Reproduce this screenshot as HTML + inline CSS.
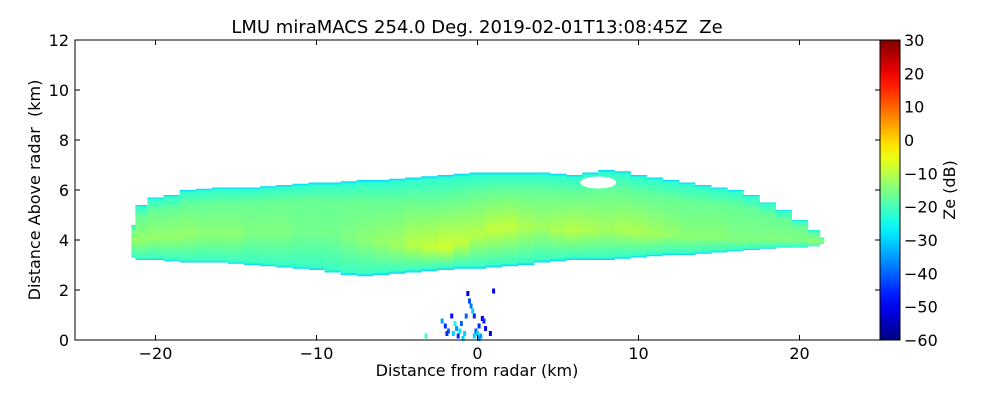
<!DOCTYPE html>
<html><head><meta charset="utf-8"><style>
body{margin:0;background:#fff;}
svg{display:block;font-family:"DejaVu Sans","Liberation Sans",sans-serif;}
</style></head><body>
<svg id="chart" width="1000" height="400" viewBox="0 0 1000 400">
<defs id="defs"></defs>
<text x="477" y="33" font-size="18" text-anchor="middle" style="white-space:pre" xml:space="preserve">LMU miraMACS 254.0 Deg. 2019-02-01T13:08:45Z  Ze</text>
<g id="echo"></g>
<g id="clutter"></g>
<rect x="75" y="40" width="805" height="300" fill="none" stroke="#000" stroke-width="1"/>
<g id="xticks"></g>
<g id="yticks"></g>
<text x="477" y="376" font-size="16" text-anchor="middle">Distance from radar (km)</text>
<text transform="translate(40,190) rotate(-90)" font-size="16" text-anchor="middle" style="white-space:pre" xml:space="preserve">Distance Above radar  (km)</text>
<rect id="cbar" x="880" y="40" width="20" height="300" stroke="#000" stroke-width="1"/>
<g id="cticks"></g>
<text transform="translate(955,190) rotate(-90)" font-size="16" text-anchor="middle">Ze (dB)</text>
</svg>
<script>
const xTicks=[-20,-10,0,10,20];
const yTicks=[0,2,4,6,8,10,12];
const cTicks=[30,20,10,0,-10,-20,-30,-40,-50,-60];
// echo columns (km), base/top height (km), core Ze (dB), core height (km)
const colX=[-21.5,-21,-20,-19,-18,-17,-16,-15,-14,-13,-12,-11,-10,-9,-8,-7,-6,-5,-4,-3,-2,-1,0,1,2,3,4,5,6,7,8,9,10,11,12,13,14,15,16,17,18,19,20,21,21.5];
const colBase=[3.3,3.2,3.2,3.15,3.1,3.1,3.1,3.05,3.0,2.95,2.9,2.85,2.8,2.7,2.6,2.55,2.6,2.65,2.7,2.75,2.8,2.85,2.85,2.9,2.95,3.0,3.1,3.15,3.2,3.2,3.2,3.25,3.3,3.35,3.4,3.4,3.45,3.5,3.55,3.6,3.65,3.7,3.7,3.75,3.85];
const colTop=[4.6,5.4,5.7,5.8,6.0,6.05,6.1,6.1,6.1,6.15,6.2,6.25,6.3,6.3,6.35,6.4,6.4,6.45,6.5,6.55,6.6,6.65,6.7,6.7,6.7,6.7,6.7,6.65,6.6,6.7,6.8,6.75,6.6,6.5,6.4,6.3,6.2,6.1,6.0,5.8,5.5,5.2,4.8,4.4,4.1];
const colCore=[-13,-13,-13,-13,-13,-14,-14,-14,-15,-15,-15,-16,-16,-16,-15,-14,-13,-12,-10,-9,-8,-9,-10,-9,-9,-11,-12,-11,-10,-11,-12,-11,-11,-12,-13,-14,-14,-14,-15,-15,-15,-15,-15,-14,-14];
const colCoreH=[4.0,4.0,4.1,4.1,4.2,4.2,4.2,4.2,4.3,4.3,4.3,4.3,4.3,4.2,4.1,4.0,3.9,3.8,3.8,3.7,3.7,3.9,4.2,4.4,4.5,4.5,4.5,4.4,4.4,4.4,4.4,4.4,4.3,4.2,4.2,4.1,4.1,4.1,4.0,4.0,4.0,4.0,4.0,3.9,3.9];
// ground clutter specks: x (km), height (km), Ze
const spX=[-2.2,-2.0,-1.8,-1.6,-1.5,-1.3,-1.2,-1.0,-0.8,-0.6,-0.5,-0.4,-0.3,-0.2,-0.1,0.0,0.1,0.2,0.3,0.5,0.8,1.0,-1.4,-0.9,-0.2,0.4,-1.9,-0.7,0.1,-1.1,-3.2];
const spY=[0.7,0.5,0.3,0.9,0.2,0.4,0.1,0.6,0.2,1.8,1.5,1.3,1.1,0.9,0.3,0.2,0.5,0.1,0.8,0.4,0.2,1.9,0.6,0.0,0.1,0.7,0.2,0.9,0.0,0.3,0.1];
const spZ=[-35,-45,-40,-48,-30,-35,-45,-40,-30,-50,-42,-38,-30,-45,-40,-30,-45,-35,-50,-48,-50,-50,-25,-30,-30,-45,-45,-40,-35,-28,-20];

const X0=75,X1=880,Y0=340,Y1=40;
const xs=v=>X0+(v+25)/50*(X1-X0);
const ys=v=>Y0-v/12*(Y0-Y1);
const cs=v=>Y0-(v+60)/90*(Y0-Y1);
function jet(t){t=Math.max(0,Math.min(1,t));
 const f=x=>Math.round(255*Math.max(0,Math.min(1,x)));
 const r=f(1.5-Math.abs(4*t-3)),g=f(1.5-Math.abs(4*t-2)),b=f(1.5-Math.abs(4*t-1));
 return `rgb(${r},${g},${b})`;}
const zc=z=>jet((z+60)/90);
const NS='http://www.w3.org/2000/svg';
function mk(tag,attrs,parent){const e=document.createElementNS(NS,tag);for(const k in attrs)e.setAttribute(k,attrs[k]);parent.appendChild(e);return e;}
const defs=document.getElementById('defs');
const cg=mk('linearGradient',{id:'cbg',x1:0,y1:1,x2:0,y2:0},defs);
for(let i=0;i<=20;i++)mk('stop',{offset:i/20,'stop-color':jet(i/20)},cg);
document.getElementById('cbar').setAttribute('fill','url(#cbg)');
const echo=document.getElementById('echo');
for(let i=0;i<colX.length;i++){
 const l=i===0?colX[i]:(colX[i-1]+colX[i])/2;
 const r=i===colX.length-1?colX[i]:(colX[i]+colX[i+1])/2;
 const b=colBase[i],t=colTop[i],h=t-b;
 const g=mk('linearGradient',{id:'cg'+i,x1:0,y1:1,x2:0,y2:0},defs);
 const off=Math.max(0.05,Math.min(0.95,(colCoreH[i]-b)/h));
 mk('stop',{offset:0,'stop-color':zc(-30)},g);
 mk('stop',{offset:0.03,'stop-color':zc(-21)},g);
 mk('stop',{offset:off,'stop-color':zc(colCore[i])},g);
 mk('stop',{offset:Math.min(0.96,off+(1-off)*0.65),'stop-color':zc(-17)},g);
 mk('stop',{offset:0.97,'stop-color':zc(-22)},g);
 mk('stop',{offset:1,'stop-color':zc(-30)},g);
 const rc=mk('rect',{x:xs(l),y:ys(t),width:xs(r)-xs(l)+0.6,height:ys(b)-ys(t),fill:'url(#cg'+i+')'},echo);
 
 
}
const hole=mk('ellipse',{cx:xs(7.5),cy:ys(6.3),rx:18,ry:6,fill:'#fff'},echo);


const clutter=document.getElementById('clutter');
for(let i=0;i<spX.length;i++){
 const s=mk('rect',{x:xs(spX[i])-1.5,y:ys(spY[i])-4,width:3,height:5,fill:zc(spZ[i])},clutter);
 
 
}
const xt=document.getElementById('xticks');
xTicks.forEach(v=>{const x=xs(v);
 mk('line',{x1:x,x2:x,y1:Y0,y2:Y0-5,stroke:'#000'},xt);
 mk('line',{x1:x,x2:x,y1:Y1,y2:Y1+5,stroke:'#000'},xt);
 const t=mk('text',{x:x,y:Y0+19,'font-size':16,'text-anchor':'middle'},xt);
 t.textContent=v<0?'\u2212'+(-v):String(v);
 
 
});
const yt=document.getElementById('yticks');
yTicks.forEach(v=>{const y=ys(v);
 mk('line',{x1:X0,x2:X0+5,y1:y,y2:y,stroke:'#000'},yt);
 mk('line',{x1:X1,x2:X1-5,y1:y,y2:y,stroke:'#000'},yt);
 const t=mk('text',{x:X0-6,y:y+6,'font-size':16,'text-anchor':'end'},yt);
 t.textContent=String(v);
 
 
});
const ct=document.getElementById('cticks');
cTicks.forEach(v=>{const y=cs(v);
 const t=mk('text',{x:904,y:y+6,'font-size':16},ct);
 t.textContent=v<0?'\u2212'+(-v):String(v);
 
 
});
</script>
</body></html>
